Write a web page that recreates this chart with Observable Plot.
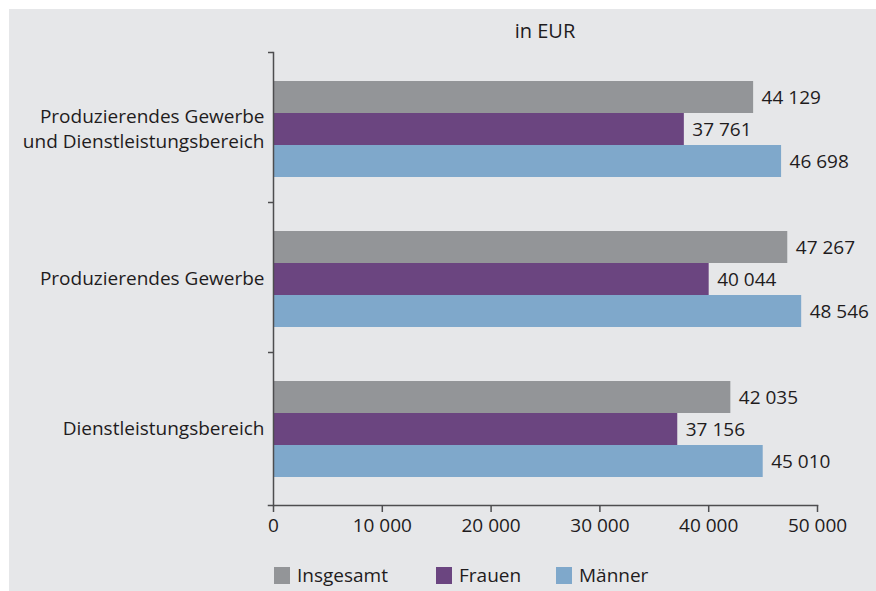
<!DOCTYPE html>
<html>
<head>
<meta charset="utf-8">
<script src="https://cdn.jsdelivr.net/npm/d3@7"></script>
<script src="https://cdn.jsdelivr.net/npm/@observablehq/plot@0.6"></script>
<style>
  body { margin: 0; background: #ffffff; font-family: "Open Sans", sans-serif; color: #1f1c1d; }
  #panel { position: absolute; left: 9px; top: 9px; width: 867px; height: 582px; background: #e6e7e9; }
  #title { position: absolute; left: 273px; width: 544px; top: 18px; text-align: center; font-size: 20px; line-height: 26px; }
  #chart { position: absolute; left: 0; top: 0; }
  #legend { position: absolute; top: 562px; left: 274px; height: 26px; font-size: 19px; line-height: 26px; }
  .item { position: absolute; top: 0; white-space: nowrap; display: flex; align-items: center; }
  .sw { display: inline-block; width: 16px; height: 17px; margin-right: 7px; }
</style>
</head>
<body>
<div id="panel"></div>
<div id="title">in EUR</div>
<div id="chart"></div>
<div id="legend"></div>
<script>
const categories = [
  "Produzierendes Gewerbe und Dienstleistungsbereich",
  "Produzierendes Gewerbe",
  "Dienstleistungsbereich"
];
const series = ["Insgesamt", "Frauen", "Männer"];
const insgesamt = [44129, 47267, 42035];
const frauen = [37761, 40044, 37156];
const maenner = [46698, 48546, 45010];
const xTicks = [0, 10000, 20000, 30000, 40000, 50000];
const colors = ["#939598", "#6b4580", "#7fa8cb"];

const valuesBySeries = [insgesamt, frauen, maenner];
const data = categories.flatMap((c, i) =>
  series.map((s, j) => ({category: c, series: s, value: valuesBySeries[j][i]}))
);

const fmt = (v) => d3.format(",")(v).replace(/,/g, " ");
const lineColor = "#4d4d4f";
const textColor = "#1f1c1d";

const chart = Plot.plot({
  width: 876,
  height: 545,
  marginTop: 52,
  marginBottom: 43,
  marginLeft: 273,
  marginRight: 59,
  style: {background: "transparent", fontFamily: "Open Sans, sans-serif", fontSize: "19px", color: textColor},
  x: {domain: [0, 50000], axis: null},
  y: {domain: series, paddingInner: 0, paddingOuter: 0.84, align: 0.54, axis: null},
  fy: {domain: categories, padding: 0, axis: null},
  color: {domain: series, range: colors},
  marks: [
    Plot.barX(data, {fy: "category", y: "series", x: "value", fill: "series"}),
    Plot.text(data, {fy: "category", y: "series", x: "value", text: (d) => fmt(d.value),
      textAnchor: "start", dx: 8, fill: textColor, fontSize: 19}),
    Plot.axisFy({anchor: "left", tickSize: 0, tickPadding: 9, label: null, fontSize: 19,
      lineHeight: 1.3, tickFormat: (d) => d.replace(" und ", "\nund ")}),
    Plot.axisFy({anchor: "left", tickSize: 5, label: null, tickFormat: () => "", dy: -75,
      stroke: lineColor, strokeWidth: 1.5}),
    Plot.frame({anchor: "left", facet: "super", insetBottom: -3, stroke: lineColor, strokeWidth: 1.5}),
    Plot.frame({anchor: "bottom", facet: "super", insetLeft: -5, dy: 3, stroke: lineColor, strokeWidth: 1.5}),
    Plot.axisX({ticks: xTicks, tickSize: 7, tickPadding: 6, tickFormat: fmt, label: null, dy: 3,
      fontSize: 19, stroke: lineColor, strokeWidth: 1.5})
  ]
});
document.getElementById("chart").append(chart);

const legend = document.getElementById("legend");
const legendX = [0, 162, 282];
series.forEach((s, i) => {
  const item = document.createElement("div");
  item.className = "item";
  item.style.left = legendX[i] + "px";
  const sw = document.createElement("span");
  sw.className = "sw";
  sw.style.background = colors[i];
  const label = document.createElement("span");
  label.textContent = s;
  item.append(sw, label);
  legend.append(item);
});
</script>
</body>
</html>
